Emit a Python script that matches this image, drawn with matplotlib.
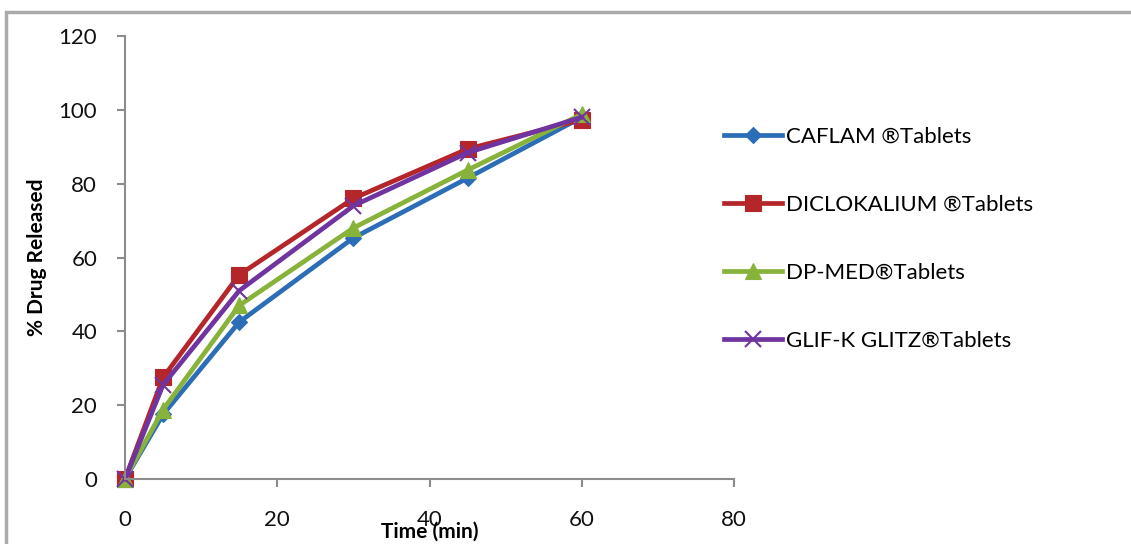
import matplotlib
matplotlib.use("Agg")
import matplotlib.pyplot as plt
from matplotlib.patches import Rectangle

time_min = [0, 5, 15, 30, 45, 60]
caflam = [0, 17.5, 42.5, 65.3, 81.5, 98]
diclokalium = [0, 27.5, 55.3, 76, 89.4, 97.3]
dp_med = [0, 18.8, 47, 68, 83.7, 98.8]
glif_k = [0, 25.5, 51, 74, 88.4, 98]

labels = ["CAFLAM \u00aeTablets", "DICLOKALIUM \u00aeTablets",
          "DP-MED\u00aeTablets", "GLIF-K GLITZ\u00aeTablets"]
series = [caflam, diclokalium, dp_med, glif_k]
colors = ["#2C6DB8", "#B5262B", "#87B33B", "#7034A0"]
markers = ["D", "s", "^", "x"]
msizes = [8, 12, 11, 11]

xticks = [0, 20, 40, 60, 80]
yticks = [0, 20, 40, 60, 80, 100, 120]

plt.rcParams['font.family'] = ['Lato', 'DejaVu Sans']

W, H = 1131, 544
fig = plt.figure(figsize=(W/100, H/100), dpi=100)
fig.patches.append(Rectangle((6/W, -0.1), 1.2, (H-12)/H + 0.1, transform=fig.transFigure,
                             fill=False, edgecolor="#AAAAAA", linewidth=2.5))

ax = fig.add_axes([125/W, 1-479/H, (734-125)/W, (479-36)/H])
for s, lab, c, m, ms in zip(series, labels, colors, markers, msizes):
    ax.plot(time_min, s, color=c, marker=m, markersize=ms, linewidth=3.4, label=lab,
            markeredgewidth=1.5 if m == "x" else 0.8, clip_on=False)

ax.set_xlim(0, 80)
ax.set_ylim(0, 120)
ax.set_xticks(xticks)
ax.set_yticks(yticks)
for sp in ["top", "right"]:
    ax.spines[sp].set_visible(False)
for sp in ["left", "bottom"]:
    ax.spines[sp].set_color("#8C8C8C")
    ax.spines[sp].set_linewidth(1.5)
ax.tick_params(axis="both", direction="out", length=6, width=1.5, color="#8C8C8C",
               labelsize=16, labelcolor="#111111")
ax.tick_params(axis="x", pad=16)
ax.tick_params(axis="y", pad=14)

ax.set_xlabel("Time (min)", fontsize=15, fontweight="bold", labelpad=-6)
ax.set_ylabel("% Drug Released", fontsize=15, fontweight="bold", labelpad=8)

handles, labs = ax.get_legend_handles_labels()
leg = fig.legend(handles, labs, loc="upper left", bbox_to_anchor=(704/W, 1-107/H),
                 frameon=False, fontsize=16, labelspacing=2.15, handlelength=2.6,
                 handletextpad=0.2)

fig.savefig("out.png", dpi=100)
